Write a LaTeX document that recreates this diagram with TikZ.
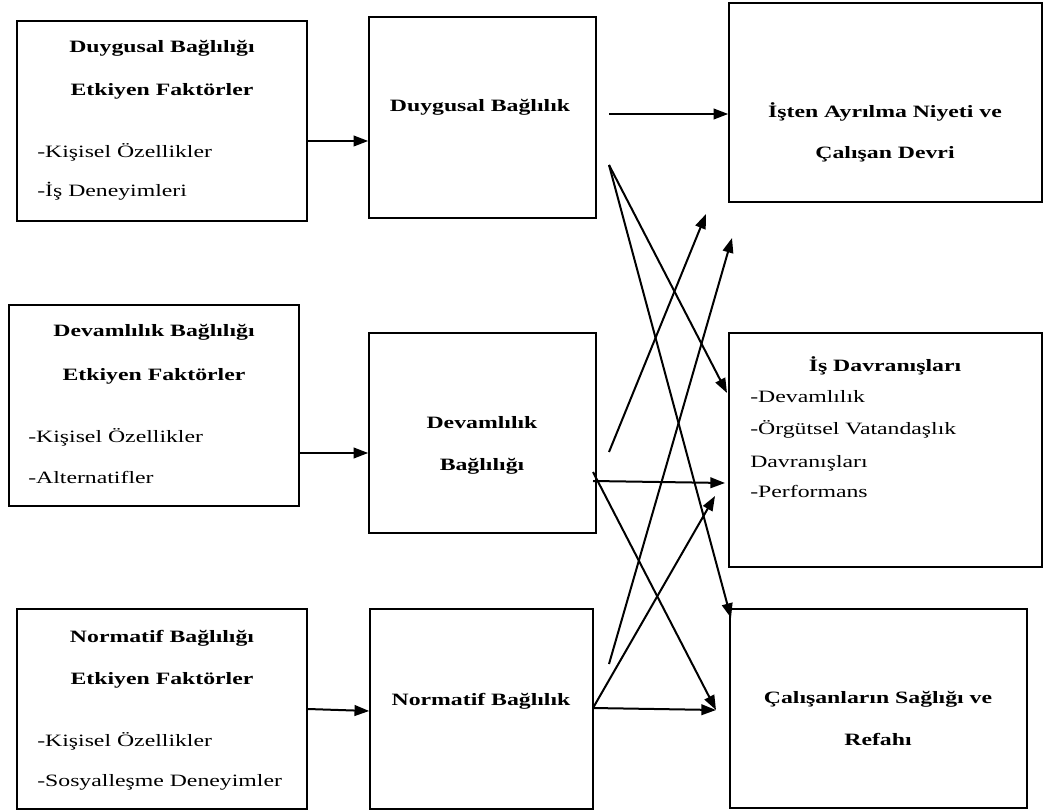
\documentclass[tikz,border=0pt]{standalone}
\usepackage{fontspec}
\setmainfont{Liberation Serif}[FakeStretch=1.37]
\usepackage{tikz}
\usetikzlibrary{arrows.meta}
\tikzset{
  kasten/.style={draw,line width=1.2pt,inner sep=0pt},
  titel/.style={anchor=base,inner sep=0pt,font=\fontsize{13pt}{16pt}\selectfont\bfseries},
  zeile/.style={anchor=base west,inner sep=0pt,font=\fontsize{13pt}{16pt}\selectfont},
  pfeil/.style={-{Triangle[length=11pt,width=8pt]},line width=1.5pt},
}

\begin{document}
\begin{tikzpicture}[x=0.75pt,y=-0.75pt]
  \useasboundingbox (0,0) rectangle (1044,812);
  % Kaesten
  \node[kasten,minimum width=217.5pt,minimum height=150pt] (f1) at (162,121) {};
  \node[kasten,minimum width=217.5pt,minimum height=150.75pt] (f2) at (154,405.5) {};
  \node[kasten,minimum width=217.5pt,minimum height=150pt] (f3) at (162,709) {};
  \node[kasten,minimum width=170.25pt,minimum height=150.75pt] (b1) at (482.5,117.5) {};
  \node[kasten,minimum width=170.25pt,minimum height=150pt] (b2) at (482.5,433) {};
  \node[kasten,minimum width=167.25pt,minimum height=150pt] (b3) at (481.5,709) {};
  \node[kasten,minimum width=234.75pt,minimum height=149.25pt] (s1) at (885.5,102.5) {};
  \node[kasten,minimum width=234.75pt,minimum height=175.5pt] (s2) at (885.5,450) {};
  \node[kasten,minimum width=222.75pt,minimum height=149.25pt] (s3) at (878.5,708.5) {};
  % Texte
  \node[titel] (f1a) at (162,53) {Duygusal Bağlılığı};
  \node[titel] (f1b) at (162,96) {Etkiyen Faktörler};
  \node[zeile] (f1c) at (37,158) {-Kişisel~Özellikler};
  \node[zeile] (f1d) at (37,197) {-İş~Deneyimleri};
  \node[titel] (f2a) at (154,337) {Devamlılık Bağlılığı};
  \node[titel] (f2b) at (154,380) {Etkiyen Faktörler};
  \node[zeile] (f2c) at (28,442) {-Kişisel~Özellikler};
  \node[zeile] (f2d) at (28,483) {-Alternatifler};
  \node[titel] (f3a) at (162,642) {Normatif Bağlılığı};
  \node[titel] (f3b) at (162,684) {Etkiyen Faktörler};
  \node[zeile] (f3c) at (37,746) {-Kişisel~Özellikler};
  \node[zeile] (f3d) at (37,786) {-Sosyalleşme~Deneyimler};
  \node[titel] (b1a) at (480,112) {Duygusal Bağlılık};
  \node[titel] (b2a) at (482,428) {Devamlılık};
  \node[titel] (b2b) at (482,470) {Bağlılığı};
  \node[titel] (b3a) at (481,705) {Normatif Bağlılık};
  \node[titel] (s1a) at (885,118) {İşten Ayrılma Niyeti ve};
  \node[titel] (s1b) at (885,159) {Çalışan Devri};
  \node[titel] (s2a) at (885,371) {İş Davranışları};
  \node[zeile] (s2b) at (750,402) {-Devamlılık};
  \node[zeile] (s2c) at (750,434) {-Örgütsel~Vatandaşlık};
  \node[zeile] (s2d) at (750,467) {Davranışları};
  \node[zeile] (s2e) at (750,497) {-Performans};
  \node[titel] (s3a) at (878,703) {Çalışanların Sağlığı ve};
  \node[titel] (s3b) at (878,745) {Refahı};
  % Anfangs- und Endpunkte
  \coordinate (d1) at (609,114);
  \coordinate (d2) at (609,165);
  \coordinate (v1) at (609,452);
  \coordinate (v2) at (593,472);
  \coordinate (v3) at (593,481);
  \coordinate (n1) at (609,664);
  \coordinate (n2) at (593,708);
  \coordinate (s1u1) at (706,214);
  \coordinate (s1u2) at (732,238);
  \coordinate (s2w1) at (727,393);
  \coordinate (s2w2) at (725,483);
  \coordinate (s2w3) at (715,496);
  \coordinate (s3w1) at (731,618);
  \coordinate (s3w2) at (716,710);
  % Pfeile
  \draw[pfeil] (f1.east |- 0,141) -- (b1.west |- 0,141);
  \draw[pfeil] (f2.east |- 0,453) -- (b2.west |- 0,453);
  \draw[pfeil] (f3.east |- 0,709) -- (b3.west |- 0,711);
  \draw[pfeil] (d1) -- (s1.west |- d1);
  \draw[pfeil] (d2) -- (s2w1);
  \draw[pfeil] (d2) -- (s3w1);
  \draw[pfeil] (v1) -- (s1u1);
  \draw[pfeil] (v3) -- (s2w2);
  \draw[pfeil] (v2) -- (s3w2);
  \draw[pfeil] (n1) -- (s1u2);
  \draw[pfeil] (n2) -- (s2w3);
  \draw[pfeil] (n2) -- (s3w2);
\end{tikzpicture}
\end{document}
